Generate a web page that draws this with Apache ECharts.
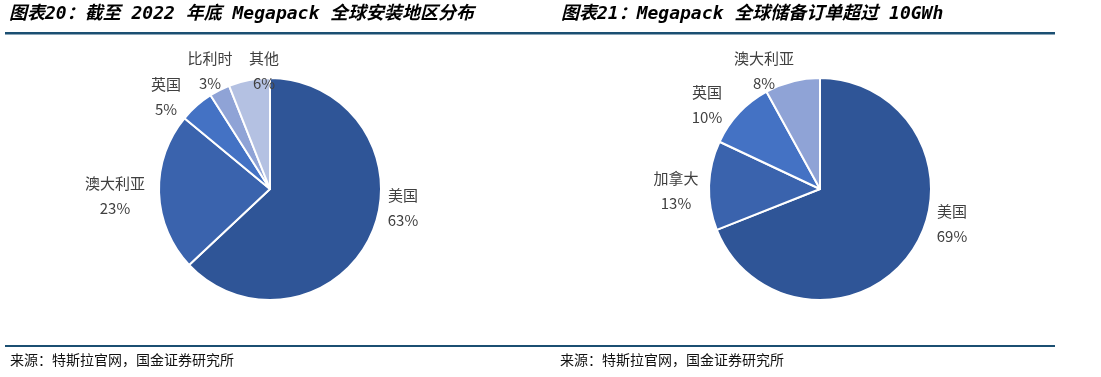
<!DOCTYPE html>
<html>
<head>
<meta charset="utf-8">
<script src="https://cdn.jsdelivr.net/npm/echarts@6/dist/echarts.min.js"></script>
<style>
html,body{margin:0;padding:0;background:#fff;}
#c{width:1101px;height:377px;}
</style>
</head>
<body>
<div id="c"></div>
<script>
// ---- data ----
const leftTitle = '图表20：截至 2022 年底 Megapack 全球安装地区分布';
const rightTitle = '图表21：Megapack 全球储备订单超过 10GWh';
const sourceText = '来源：特斯拉官网，国金证券研究所';

const leftNames = ['美国', '澳大利亚', '英国', '比利时', '其他'];
const leftValues = [63, 23, 5, 3, 6];

const rightNames = ['美国', '加拿大', '英国', '澳大利亚'];
const rightValues = [69, 13, 10, 8];

// ---- styles ----
const leftColors = ['#2F5597', '#3A63AD', '#4472C4', '#8FA3D6', '#B4C1E2'];
const rightColors = ['#2F5597', '#3A63AD', '#4472C4', '#8FA3D6'];
const leftLabelPos = [[403, 208], [115, 196], [166, 97], [210, 71], [264, 71]];
const rightLabelPos = [[952, 224], [676, 191], [707, 105], [764, 71]];

function buildData(names, values, colors) {
  return names.map((n, i) => ({ name: n, value: values[i], itemStyle: { color: colors[i] } }));
}

const labelStyle = {
  show: true,
  position: 'outside',
  formatter: '{b}\n{c}%',
  fontFamily: '"Noto Sans CJK SC", sans-serif',
  fontSize: 15,
  lineHeight: 25,
  color: '#404040',
  align: 'center'
};

const titleFont = {
  fontFamily: '"DejaVu Sans Mono", "Noto Sans CJK SC", monospace',
  fontSize: 18,
  fontWeight: 'bold',
  fontStyle: 'italic',
  color: '#000'
};
const srcFont = {
  fontFamily: '"Noto Sans CJK SC", sans-serif',
  fontSize: 14,
  fontWeight: 'normal',
  color: '#111'
};

const chart = echarts.init(document.getElementById('c'), null, { renderer: 'canvas' });
chart.setOption({
  animation: false,
  backgroundColor: '#fff',
  title: [
    { text: leftTitle, left: 9, top: 5, textStyle: titleFont, padding: 0 },
    { text: rightTitle, left: 561, top: 5, textStyle: titleFont, padding: 0 },
    { text: sourceText, left: 10, top: 353, textStyle: srcFont, padding: 0 },
    { text: sourceText, left: 560, top: 353, textStyle: srcFont, padding: 0 }
  ],
  graphic: [
    { type: 'rect', shape: { x: 5, y: 32, width: 1050, height: 2.5 }, style: { fill: '#1B4F72' } },
    { type: 'rect', shape: { x: 5, y: 345, width: 1050, height: 2 }, style: { fill: '#1B4F72' } }
  ],
  series: [
    {
      type: 'pie',
      center: [270, 189],
      radius: 111,
      startAngle: 90,
      clockwise: true,
      data: buildData(leftNames, leftValues, leftColors),
      itemStyle: { borderColor: '#fff', borderWidth: 2 },
      label: labelStyle,
      labelLine: { show: false },
      labelLayout: p => ({ x: leftLabelPos[p.dataIndex][0], y: leftLabelPos[p.dataIndex][1], align: 'center', verticalAlign: 'middle' })
    },
    {
      type: 'pie',
      center: [820, 189],
      radius: 111,
      startAngle: 90,
      clockwise: true,
      data: buildData(rightNames, rightValues, rightColors),
      itemStyle: { borderColor: '#fff', borderWidth: 2 },
      label: labelStyle,
      labelLine: { show: false },
      labelLayout: p => ({ x: rightLabelPos[p.dataIndex][0], y: rightLabelPos[p.dataIndex][1], align: 'center', verticalAlign: 'middle' })
    }
  ]
});
</script>
</body>
</html>
